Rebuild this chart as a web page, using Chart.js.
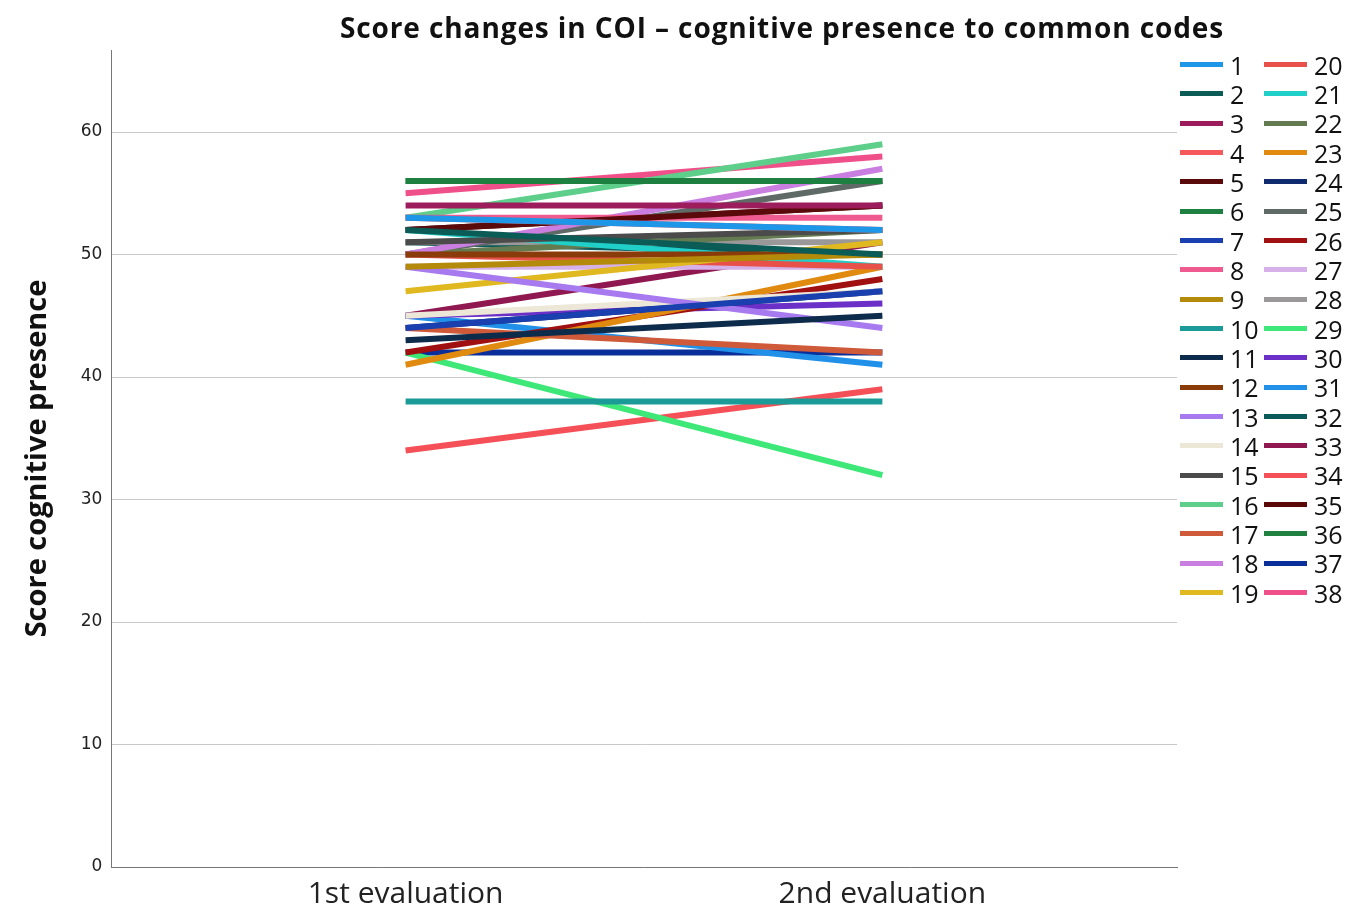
<!DOCTYPE html>
<html>
<head>
<meta charset="utf-8">
<script src="https://cdn.jsdelivr.net/npm/chart.js@4"></script>
<style>
  body { margin:0; background:#fff; }
  #wrap { position:relative; width:1353px; height:911px; }
  #title { position:absolute; left:782px; top:8px; transform:translateX(-50%); white-space:nowrap;
           font:bold 28px "Open Sans", sans-serif; letter-spacing:0.9px; color:#111; }
  #legend { position:absolute; left:1180px; top:50px; display:grid; grid-template-rows:repeat(19, 29.33px);
            grid-auto-flow:column; grid-template-columns:84px 84px; }
  .item { display:flex; align-items:center; font:25px "Open Sans", sans-serif; color:#111; }
  .item .ln { width:43px; height:5px; margin-right:7px; }
</style>
</head>
<body>
<div id="wrap">
  <canvas id="chart" width="1353" height="911"></canvas>
  <div id="title">Score changes in COI – cognitive presence to common codes</div>
  <div id="legend"></div>
</div>
<script>
// Data
const categories = ['1st evaluation', '2nd evaluation'];
const participants = ['1','2','3','4','5','6','7','8','9','10','11','12','13','14','15','16','17','18','19',
                      '20','21','22','23','24','25','26','27','28','29','30','31','32','33','34','35','36','37','38'];
const firstEval  = [53,52,54,53,52,56,44,53,49,38,43,50,49,45,51,53,44,50,47,
                    50,52,50,41,44,50,42,49,51,42,45,45,51,45,34,52,56,42,55];
const secondEval = [52,50,54,52,54,56,47,53,50,38,45,50,44,47,52,59,42,57,51,
                    49,49,52,49,47,56,48,49,51,32,46,41,50,51,39,54,56,42,58];
const lineColors = ['#1f97e8','#0b5b57','#9c1c5c','#f65a5a','#5a0a0a','#1d8040','#1a3faf','#ef5a8f','#b48a0a','#1a9b98',
                    '#0d2b4a','#8a3b0a','#a77af0','#ece7d6','#4b4b4b','#5dcf8a','#cf5a3a','#c97ee0','#e0b820',
                    '#e8504a','#20d0c8','#647a50','#e08a10','#102a70','#5f6a66','#a01010','#d6b0e8','#9a9898','#3ee878',
                    '#6a30c8','#2090e8','#0a5a5a','#901850','#f55058','#5a0808','#208040','#0a2e9a','#f0508a'];
const yTicks = [0,10,20,30,40,50,60];

const datasets = participants.map((p,i)=>({
  label:p,
  data:[{x:0, y:firstEval[i]}, {x:1, y:secondEval[i]}],
  borderColor:lineColors[i],
  backgroundColor:lineColors[i],
  borderWidth:6,
  borderCapStyle:'butt',
  pointRadius:0,
  fill:false,
  tension:0
}));

const chart = new Chart(document.getElementById('chart').getContext('2d'), {
  type:'line',
  data:{datasets},
  options:{
    responsive:false,
    animation:false,
    devicePixelRatio:1,
    layout:{padding:{top:50, right:176, left:11, bottom:-10}},
    plugins:{legend:{display:false}, tooltip:{enabled:false}},
    scales:{
      x:{
        type:'linear', min:-0.617, max:1.618,
        afterBuildTicks:s=>{ s.ticks = categories.map((c,i)=>({value:i})); },
        ticks:{callback:v=>categories[v], font:{family:'Open Sans', size:30}, color:'#222', padding:9},
        grid:{display:false, drawTicks:false},
        border:{display:true, color:'#777', width:1}
      },
      y:{
        min:0, max:66.7,
        afterBuildTicks:s=>{ s.ticks = yTicks.map(v=>({value:v})); },
        ticks:{font:{family:'DejaVu Sans', size:17}, color:'#222', padding:9},
        grid:{color:'#c8c8c8', lineWidth:1, drawTicks:false},
        border:{display:true, color:'#777', width:1},
        title:{display:true, text:'Score cognitive presence', font:{family:'Open Sans', size:29, weight:'bold'},
               color:'#111', padding:{top:9, bottom:17}}
      }
    }
  }
});

// Legend (two columns, like the original)
const legendEl = document.getElementById('legend');
chart.data.datasets.forEach(ds=>{
  const item = document.createElement('div'); item.className='item';
  item.innerHTML = `<span class="ln" style="background:${ds.borderColor}"></span>${ds.label}`;
  legendEl.appendChild(item);
});
</script>
</body>
</html>
